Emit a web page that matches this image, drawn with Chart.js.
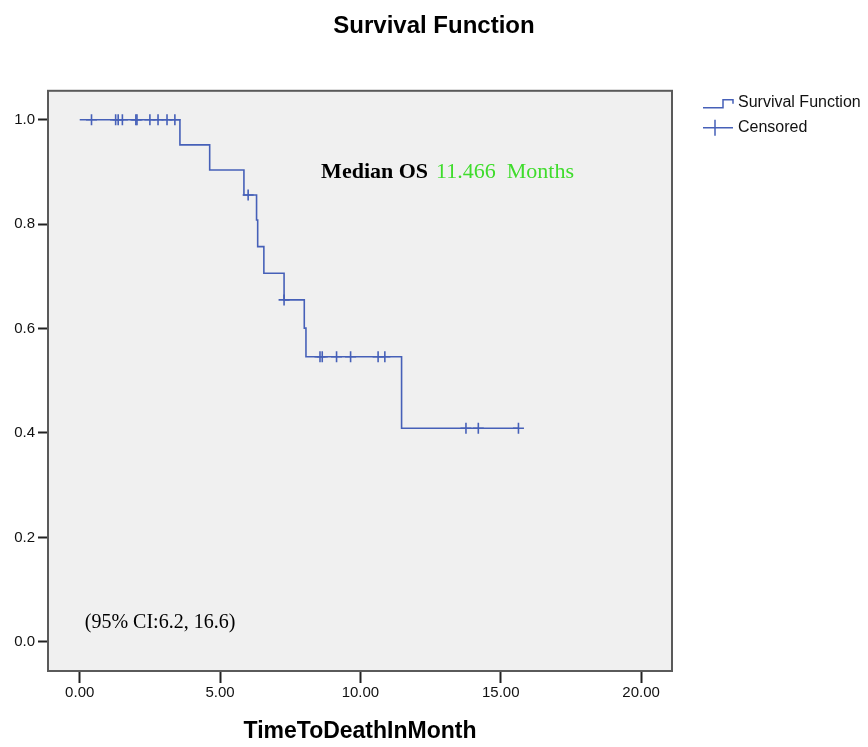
<!DOCTYPE html>
<html><head><meta charset="utf-8">
<script src="https://cdn.jsdelivr.net/npm/chart.js@4.4.1/dist/chart.umd.min.js"></script>
<style>html,body{margin:0;padding:0;background:#fff;}canvas{display:block;}</style>
</head><body>
<canvas id="c" width="868" height="747"></canvas>
<script>
// ---- data ----
const eventTimes = [0, 3.57, 4.63, 5.85, 6.30, 6.34, 6.56, 7.28, 8.00, 8.06, 11.466, 15.63];
const survival   = [1.0, 0.952, 0.904, 0.856, 0.808, 0.757, 0.706, 0.655, 0.601, 0.546, 0.409, 0.409];
const censorTimes    = [0.42, 1.28, 1.37, 1.52, 2.00, 2.04, 2.50, 2.79, 3.11, 3.39, 6.00, 7.28, 8.56, 8.64, 9.15, 9.65, 10.63, 10.87, 13.76, 14.20, 15.63];
const censorSurvival = [1, 1, 1, 1, 1, 1, 1, 1, 1, 1, 0.856, 0.655, 0.546, 0.546, 0.546, 0.546, 0.546, 0.546, 0.409, 0.409, 0.409];
const xTicks = [0, 5, 10, 15, 20];
const yTicks = [0, 0.2, 0.4, 0.6, 0.8, 1.0];
const titleText = 'Survival Function';
const xTitle = 'TimeToDeathInMonth';
const legendLabels = ['Survival Function', 'Censored'];
const medianLabel = 'Median OS';
const medianValue = '11.466  Months';
const ciLabel = '(95% CI:6.2, 16.6)';

const lineColor = '#4660b8';
const SANS = '"Liberation Sans", Arial, sans-serif';
const SERIF = '"Liberation Serif", "Times New Roman", serif';

const decorPlugin = {
  id: 'decor',
  beforeDraw(chart) {
    const {ctx, chartArea: a} = chart;
    ctx.save();
    ctx.fillStyle = '#f0f0f0';
    ctx.fillRect(a.left, a.top, a.right - a.left, a.bottom - a.top);
    ctx.restore();
  },
  afterDraw(chart) {
    const {ctx, chartArea: a, scales: {x, y}} = chart;
    ctx.save();
    // frame
    ctx.strokeStyle = '#5a5a5a';
    ctx.lineWidth = 2;
    ctx.strokeRect(a.left, a.top, a.right - a.left, a.bottom - a.top);

    // annotations
    ctx.textBaseline = 'alphabetic';
    ctx.textAlign = 'left';
    const mx = x.getPixelForValue(8.6), my = y.getPixelForValue(0.889);
    ctx.font = 'bold 22px ' + SERIF;
    ctx.fillStyle = '#000';
    ctx.fillText(medianLabel, mx, my);
    const w = ctx.measureText(medianLabel).width;
    ctx.font = '22px ' + SERIF;
    ctx.fillStyle = '#3fdc2c';
    ctx.fillText(medianValue, mx + w + 8, my);

    ctx.font = '20px ' + SERIF;
    ctx.fillStyle = '#000';
    ctx.fillText(ciLabel, x.getPixelForValue(0.18), y.getPixelForValue(0.026));

    // legend
    const lx = a.right + 31, ly1 = a.top + 12, ly2 = a.top + 37;
    ctx.strokeStyle = lineColor;
    ctx.lineWidth = 1.5;
    ctx.beginPath();
    ctx.moveTo(lx, ly1 + 5);
    ctx.lineTo(lx + 20, ly1 + 5);
    ctx.lineTo(lx + 20, ly1 - 3);
    ctx.lineTo(lx + 30, ly1 - 3);
    ctx.lineTo(lx + 30, ly1 + 1);
    ctx.stroke();
    ctx.beginPath();
    ctx.moveTo(lx, ly2); ctx.lineTo(lx + 30, ly2);
    ctx.moveTo(lx + 12, ly2 - 8); ctx.lineTo(lx + 12, ly2 + 8);
    ctx.stroke();
    ctx.font = '16px ' + SANS;
    ctx.fillStyle = '#111';
    ctx.textBaseline = 'middle';
    ctx.fillText(legendLabels[0], lx + 35, ly1);
    ctx.fillText(legendLabels[1], lx + 35, ly2);
    ctx.restore();
  }
};

new Chart(document.getElementById('c'), {
  type: 'scatter',
  data: {
    datasets: [
      {
        label: legendLabels[0],
        type: 'line',
        data: eventTimes.map((t, i) => ({x: t, y: survival[i]})),
        stepped: 'before',
        borderColor: lineColor,
        borderWidth: 1.6,
        pointRadius: 0,
        fill: false
      },
      {
        label: legendLabels[1],
        data: censorTimes.map((t, i) => ({x: t, y: censorSurvival[i]})),
        pointStyle: 'cross',
        pointRadius: 5.5,
        borderColor: lineColor,
        borderWidth: 1.6,
        showLine: false
      }
    ]
  },
  plugins: [decorPlugin],
  options: {
    responsive: false,
    animation: false,
    devicePixelRatio: 1,
    layout: {padding: {left: 0, right: 0, top: 0, bottom: 0}},
    plugins: {
      legend: {display: false},
      tooltip: {enabled: false},
      title: {
        display: true,
        text: titleText,
        color: '#000',
        font: {family: SANS, size: 24, weight: 'bold', lineHeight: 1.2},
        padding: {top: 12, bottom: 50}
      }
    },
    scales: {
      x: {
        type: 'linear',
        min: -1.13, max: 21.1,
        border: {display: false},
        grid: {display: true, drawOnChartArea: false, drawTicks: true, tickLength: 12, tickWidth: 2, tickColor: '#222'},
        afterBuildTicks: s => { s.ticks = xTicks.map(v => ({value: v})); },
        afterFit: s => { s.height = 76; },
        ticks: {
          color: '#111', padding: 1,
          font: {family: SANS, size: 15},
          maxRotation: 0,
          callback: v => Number(v).toFixed(2)
        },
        title: {
          display: true, text: xTitle, color: '#000',
          font: {family: SANS, size: 23, weight: 'bold', lineHeight: 1.2},
          padding: {top: 0, bottom: 2}
        }
      },
      y: {
        type: 'linear',
        min: -0.056, max: 1.0556,
        border: {display: false},
        grid: {display: true, drawOnChartArea: false, drawTicks: true, tickLength: 10, tickWidth: 2, tickColor: '#222'},
        afterBuildTicks: s => { s.ticks = yTicks.map(v => ({value: v})); },
        afterFit: s => { s.width = 48; },
        ticks: {
          color: '#111', padding: 3,
          font: {family: SANS, size: 15},
          callback: v => Number(v).toFixed(1)
        }
      },
      yRight: {
        type: 'linear',
        position: 'right',
        min: 0, max: 1,
        border: {display: false},
        grid: {display: false, drawTicks: false},
        ticks: {display: false},
        afterFit: s => { s.width = 196; }
      }
    }
  }
});
</script>
</body></html>
